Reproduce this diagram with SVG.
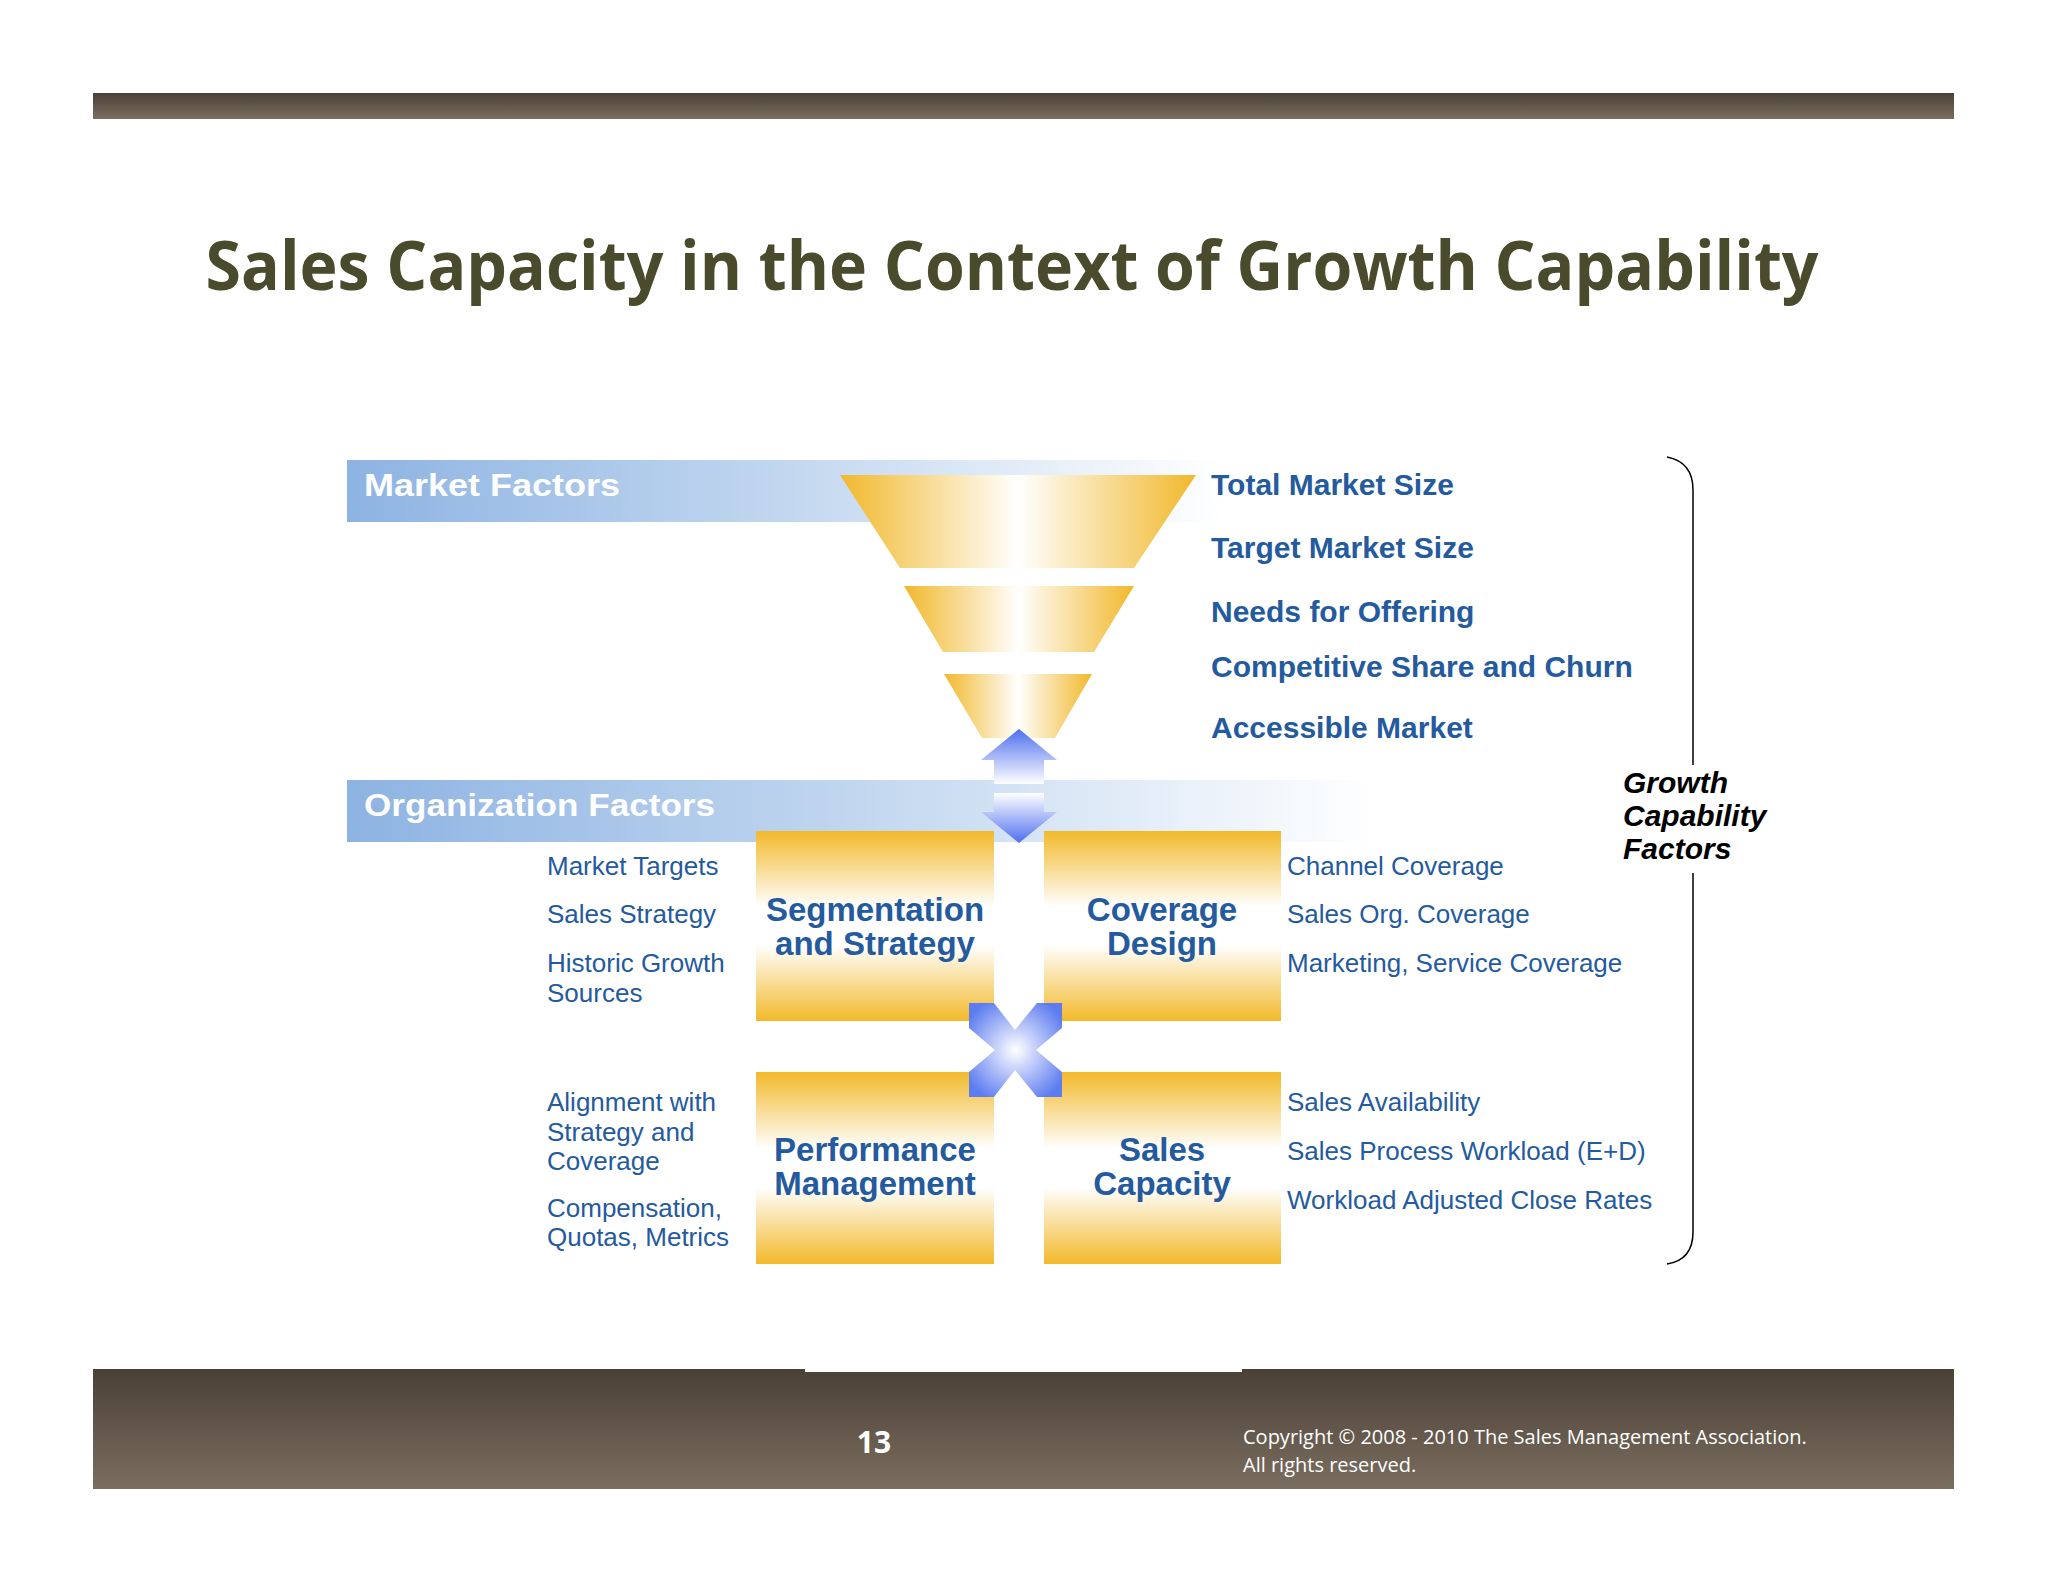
<svg xmlns="http://www.w3.org/2000/svg" width="2048" height="1582" viewBox="0 0 2048 1582">
<defs>
<linearGradient id="dark" x1="0" y1="0" x2="0" y2="1"><stop offset="0" stop-color="#4a4034"/><stop offset="1" stop-color="#7a6e60"/></linearGradient>
<linearGradient id="bar" x1="0" y1="0" x2="1" y2="0"><stop offset="0" stop-color="#8db3e2"/><stop offset="0.55" stop-color="#c8dbf1"/><stop offset="1" stop-color="#ffffff"/></linearGradient>
<linearGradient id="fun" x1="0" y1="0" x2="1" y2="0"><stop offset="0" stop-color="#f1b82c"/><stop offset="0.5" stop-color="#ffffff"/><stop offset="1" stop-color="#f1b82c"/></linearGradient>
<linearGradient id="box" x1="0" y1="0" x2="0" y2="1"><stop offset="0" stop-color="#f2b92a"/><stop offset="0.4" stop-color="#ffffff"/><stop offset="0.6" stop-color="#ffffff"/><stop offset="1" stop-color="#f2b92a"/></linearGradient>
<linearGradient id="up" x1="0" y1="0" x2="0" y2="1"><stop offset="0" stop-color="#4f6ff0"/><stop offset="1" stop-color="#ffffff"/></linearGradient>
<linearGradient id="down" x1="0" y1="0" x2="0" y2="1"><stop offset="0" stop-color="#ffffff"/><stop offset="1" stop-color="#4f6ff0"/></linearGradient>
<radialGradient id="xg" cx="0.5" cy="0.5" r="0.6"><stop offset="0" stop-color="#ffffff"/><stop offset="1" stop-color="#5d7cf0"/></radialGradient>
<style>
.bl{font-family:"Liberation Sans",Arial,sans-serif;fill:#245a9e}
.b{font-weight:bold}
.rt{font-size:30px}
.sm{font-size:26px}
.bx{font-size:33px;text-anchor:middle}
.wh{font-family:"Liberation Sans",Arial,sans-serif;fill:#fff;font-weight:bold;font-size:31px}
</style>
</defs>
<rect width="2048" height="1582" fill="#fff"/>
<rect x="93" y="93" width="1861" height="26" fill="url(#dark)"/>
<text x="1012" y="290" text-anchor="middle" font-family="Open Sans,sans-serif" font-weight="bold" font-size="68" fill="#4a4a2c" textLength="1613" lengthAdjust="spacingAndGlyphs">Sales Capacity in the Context of Growth Capability</text>

<g id="market-bar"><rect x="347" y="460" width="880" height="62" fill="url(#bar)"/><text class="wh" x="364" y="496" textLength="256" lengthAdjust="spacingAndGlyphs">Market Factors</text></g>
<g id="org-bar"><rect x="347" y="780" width="1030" height="62" fill="url(#bar)"/><text class="wh" x="364" y="816" textLength="351" lengthAdjust="spacingAndGlyphs">Organization Factors</text></g>

<g id="funnel">
<polygon points="840,475 1196,475 1134,568 900,568" fill="url(#fun)"/>
<polygon points="904,586 1134,586 1094,652 943,652" fill="url(#fun)"/>
<polygon points="944,674 1092,674 1055,738 982,738" fill="url(#fun)"/>
</g>

<g id="connectors">
<polygon points="1019,729 1057,760 1044,760 1044,784 994,784 994,760 981,760" fill="url(#up)"/>
<polygon points="994,793 1044,793 1044,812 1057,812 1019,843 981,812 994,812" fill="url(#down)"/>
<path d="M1667,457 Q1693,462 1693,490 L1693,765 M1693,873 L1693,1232 Q1693,1260 1667,1264" fill="none" stroke="#000" stroke-width="1.5"/>
</g>

<g id="seg"><rect x="756" y="831" width="238" height="190" fill="url(#box)"/><text class="bl b bx" x="875" y="921">Segmentation</text><text class="bl b bx" x="875" y="955">and Strategy</text></g>
<g id="cov"><rect x="1044" y="831" width="237" height="190" fill="url(#box)"/><text class="bl b bx" x="1162" y="921">Coverage</text><text class="bl b bx" x="1162" y="955">Design</text></g>
<g id="perf"><rect x="756" y="1072" width="238" height="192" fill="url(#box)"/><text class="bl b bx" x="875" y="1161">Performance</text><text class="bl b bx" x="875" y="1195">Management</text></g>
<g id="cap"><rect x="1044" y="1072" width="237" height="192" fill="url(#box)"/><text class="bl b bx" x="1162" y="1161">Sales</text><text class="bl b bx" x="1162" y="1195">Capacity</text></g>

<g id="xicon">
<rect x="969" y="1003" width="93" height="94" fill="url(#xg)"/>
<polygon points="994,1003 1037,1003 1015,1030" fill="#fff"/>
<polygon points="994,1097 1037,1097 1015,1070" fill="#fff"/>
<polygon points="969,1028 969,1072 995,1050" fill="#fff"/>
<polygon points="1062,1028 1062,1072 1036,1050" fill="#fff"/>
</g>

<g id="market-labels">
<text class="bl b rt" x="1211" y="495">Total Market Size</text>
<text class="bl b rt" x="1211" y="558">Target Market Size</text>
<text class="bl b rt" x="1211" y="622">Needs for Offering</text>
<text class="bl b rt" x="1211" y="677">Competitive Share and Churn</text>
<text class="bl b rt" x="1211" y="738">Accessible Market</text>
</g>

<g id="left-labels">
<text class="bl sm" x="547" y="875">Market Targets</text>
<text class="bl sm" x="547" y="923">Sales Strategy</text>
<text class="bl sm" x="547" y="972">Historic Growth</text>
<text class="bl sm" x="547" y="1002">Sources</text>
<text class="bl sm" x="547" y="1111">Alignment with</text>
<text class="bl sm" x="547" y="1141">Strategy and</text>
<text class="bl sm" x="547" y="1170">Coverage</text>
<text class="bl sm" x="547" y="1217">Compensation,</text>
<text class="bl sm" x="547" y="1246">Quotas, Metrics</text>
</g>
<g id="right-labels">
<text class="bl sm" x="1287" y="875">Channel Coverage</text>
<text class="bl sm" x="1287" y="923">Sales Org. Coverage</text>
<text class="bl sm" x="1287" y="972">Marketing, Service Coverage</text>
<text class="bl sm" x="1287" y="1111">Sales Availability</text>
<text class="bl sm" x="1287" y="1160">Sales Process Workload (E+D)</text>
<text class="bl sm" x="1287" y="1209">Workload Adjusted Close Rates</text>
</g>

<g id="growth" font-family="Liberation Sans,Arial,sans-serif" font-weight="bold" font-style="italic" font-size="30" fill="#000">
<text x="1623" y="793">Growth</text><text x="1623" y="826">Capability</text><text x="1623" y="859">Factors</text>
</g>

<rect x="93" y="1369" width="1861" height="120" fill="url(#dark)"/>
<rect x="805" y="1369" width="437" height="3" fill="#fff"/>
<text x="874" y="1453" text-anchor="middle" font-family="Open Sans,sans-serif" font-weight="bold" font-size="30" fill="#fff">13</text>
<text font-family="Open Sans,sans-serif" font-size="20" fill="#fff"><tspan x="1243" y="1444">Copyright © 2008 - 2010 The Sales Management Association.</tspan><tspan x="1243" y="1472">All rights reserved.</tspan></text>
</svg>
